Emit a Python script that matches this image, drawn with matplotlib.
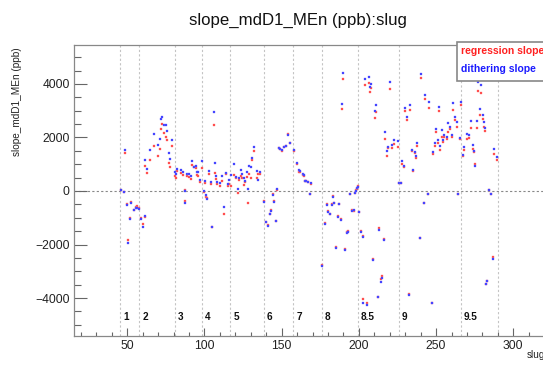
import matplotlib
matplotlib.use("Agg")
import matplotlib.pyplot as plt
from matplotlib.patches import Rectangle
from matplotlib.ticker import MultipleLocator

plt.rcParams['font.family'] = ['Liberation Sans', 'DejaVu Sans']

# slug number of each point
slug = [
    45.7, 47.9, 48.5, 49.8, 50.7, 51.8, 52.6, 54.4, 55.5, 56.5, 57.5,
    59.0, 60.0, 61.2, 61.7, 62.8, 64.9, 67.1, 69.9, 71.0, 71.8, 72.7, 74.0,
    74.8, 75.7, 76.8, 77.9, 79.0,
    80.8, 81.5, 82.5, 85.0, 86.0, 87.2, 87.4, 88.7, 90.0, 91.0, 92.1, 93.2,
    94.3, 95.0, 96.0, 97.0, 98.2,
    99.7, 100.1, 100.8, 101.4, 102.7, 104.0, 105.1, 106.4, 106.8, 107.5,
    108.3, 109.8, 111.1, 112.6, 113.7, 115.0, 116.2,
    117.3, 119.1, 120.5, 121.9, 122.5, 123.5, 124.5, 125.6, 126.5, 127.5,
    128.3, 129.0, 130.0, 131.0, 132.3, 133.8, 134.5, 136.0,
    138.7, 139.8, 140.9, 142.2, 143.1, 144.4, 145.2, 146.1, 147.2, 148.0,
    149.0, 150.0, 151.7, 152.8, 154.3, 155.1,
    157.9, 160.1, 161.2, 161.6, 163.6, 164.5, 164.9, 165.7, 167.0, 168.3,
    169.2,
    176.3, 178.2, 179.1, 180.2, 181.0, 182.3, 183.2, 184.1, 185.2, 186.2,
    187.3, 188.4, 189.3, 189.5, 191.0, 192.0, 193.1, 194.2, 195.5, 196.6,
    197.2, 198.1, 198.8, 199.2,
    199.8, 201.3, 202.4, 202.8, 204.1, 205.0, 206.3, 207.4, 208.0, 209.1,
    210.2, 211.1, 212.1, 213.2, 214.1, 214.8, 216.2, 217.1, 218.4, 219.0,
    220.2, 221.5, 222.8, 225.1,
    226.0, 227.0, 227.9, 229.0, 230.1, 231.0, 232.5, 233.1, 234.2, 235.3,
    236.1, 237.0, 237.9, 239.6, 240.5, 242.4, 243.1, 244.6, 245.6, 247.6,
    248.2, 249.5, 250.2, 251.0, 252.1, 252.6, 253.6, 254.3, 255.4, 256.9,
    257.7, 259.0, 260.0, 260.8, 262.1, 263.4, 264.2, 265.5,
    266.2, 267.7, 268.3, 269.8, 271.1, 272.6, 273.7, 274.8, 275.2, 276.3,
    277.0, 278.5, 279.1, 280.4, 281.1, 281.5, 282.3, 282.8, 284.5, 285.6,
    286.7, 287.7, 289.3,
]

# regression slope (ppb)
reg_slope = [
    20, -40, 1408, -490, -1831, -1000, -420, -710, -590, -560, -640,
    -1010, -1230, 950, -985, 690, 1160, 1680, 1310, 1580, 2330, 2500, 2170,
    2010, 1900, 1060, 900, 1680,
    560, 500, 740, 660, 600, 50, -380, 560, 520, 450, 985, 880,
    860, 600, 560, 330, 870,
    -30, 290, -210, -260, 650, 260, -1360, 2450, 660, 450,
    270, 200, 380, -870, 640, 190, 280,
    190, 600, 480, -60, 420, 560, 470, 220, 330, 520,
    -440, 650, 500, 1150, 1480, 500, 650, 620,
    -380, -1150, -1280, -850, -720, -130, -390, -1110, 50, 1590,
    1560, 1510, 1640, 1690, 2130, 1800,
    1500, 1000, 720, 700, 600, 560, 380, 370, 340, -110,
    260,
    -2780, -1210, -500, -740, -850, -500, -190, -440, -2080, -940,
    -480, -1060, 3050, 4200, -2156, -1550, -1500, -100, -700, -735,
    -60, 20, 90, 180,
    -770, -1500, -1690, -4050, 3960, -4200, 4050, 3700, 3860, -2560,
    2740, 2940, -3950, -1400, -3290, -3190, -1795, 1944, 1320, 1600,
    3812, 1600, 1750, 1657,
    300, 310, 1009, 880, 3000, 2654, -3860, 3028, 1480, 760,
    1420, 1250, 1700, -1744, 4212, -436, 3439, -112, 3115, -4174,
    1383, 1700, 2200, 1800, 2990, 1550, 2030, 1850, 2006, 1950,
    2205, 2305, 2000, 3028, 2654, 2400, -125, 1956,
    3214, 1308, 1550, 1944, 1990, 2342, 1582, 1470, 1009, 2350,
    3750, 2850, 3650, 2700, 2400, 2255, -3489, -3364, 20, -112,
    -2480, 1383, 1159,
]

# dithering slope (ppb)
dith_slope = [
    40, -20, 1532, -530, -1931, -1050, -460, -720, -620, -650, -660,
    -1060, -1330, 1160, -935, 810, 1530, 2130, 1710, 1930, 2690, 2770, 2470,
    2450, 2255, 1430, 1196, 1906,
    700, 620, 820, 790, 700, 0, -460, 640, 640, 560, 1120, 910,
    930, 700, 720, 400, 1110,
    10, 380, -150, -300, 760, 320, -1330, 2950, 1030, 560,
    350, 300, 560, -610, 685, 280, 400,
    580, 1010, 510, 80, 500, 780, 640, 480, 380, 710,
    90, 930, 880, 1220, 1660, 750, 420, 700,
    -410, -1170, -1300, -860, -735, -140, -400, -1120, 60, 1610,
    1580, 1530, 1660, 1700, 2090, 1780,
    1530, 1030, 800, 760, 635, 610, 390, 390, 350, -110,
    290,
    -2820, -1250, -536, -772, -872, -523, -212, -461, -2130, -959,
    -500, -1084, 3250, 4400, -2200, -1580, -1530, -125, -735, -700,
    -62, 0, 100, 137,
    -800, -1520, -1707, -4174, 4170, -4250, 4260, 3900, 4010, -2590,
    2990, 3200, -3975, -1450, -3390, -3260, -1830, 2218, 1507, 1657,
    4062, 1719, 1906, 1869,
    312, 312, 1134, 950, 3090, 2753, -3875, 3202, 1532, 785,
    1470, 1308, 1806, -1744, 4373, -436, 3600, -112, 3327, -4174,
    1450, 1781, 2305, 1900, 3152, 1682, 2280, 1906, 2100, 2031,
    2529, 2405, 2100, 3302, 2778, 2591, -100, 1990,
    3340, 1350, 1657, 2118, 2093, 2616, 1719, 1500, 934, 2628,
    4062, 3052, 3950, 2840, 2590, 2350, -3489, -3364, 37, -112,
    -2554, 1557, 1283,
]

# run period boundaries and their names
period_start = [45.5, 57.8, 80.7, 98.2, 116.7, 138.3, 157.5, 175.9, 199.2,
                226.0, 266.1, 290.3]
period_name = ["1", "2", "3", "4", "5", "6", "7", "8", "8.5", "9", "9.5"]

W, H = 543, 365
fig = plt.figure(figsize=(W / 100, H / 100), dpi=100)
fig.patch.set_facecolor('white')

ax_l, ax_r, ax_t, ax_b = 74, 559.6, 44.5, 336
ax = fig.add_axes([ax_l / W, 1 - ax_b / H, (ax_r - ax_l) / W, (ax_b - ax_t) / H])
ax.set_xlim(15.5, 330)
ax.set_ylim(-5420, 5476)

for xb in period_start:
    ax.axvline(xb, color='#c4c4c4', lw=0.8, ls=(0, (2, 2)), zorder=1)
ax.axhline(0, color='#888888', lw=0.8, ls=(0, (2, 2)), zorder=1)

for xb, name in zip(period_start, period_name):
    ax.text(xb + 2.0, -4700, name, fontsize=7.2, fontweight='bold',
            ha='left', va='center', color='#111111', zorder=3)

ax.plot(slug, reg_slope, ls='none', marker='s', ms=1.9, mew=0.3,
        color='#ff3030', mec='#ff8080', zorder=4)
ax.plot(slug, dith_slope, ls='none', marker='s', ms=1.9, mew=0.3,
        color='#2020ff', mec='#8080ff', zorder=5)

ax.xaxis.set_major_locator(MultipleLocator(50))
ax.xaxis.set_minor_locator(MultipleLocator(10))
ax.yaxis.set_major_locator(MultipleLocator(2000))
ax.yaxis.set_minor_locator(MultipleLocator(500))
ax.tick_params(axis='both', which='both', direction='in', color='#666666',
               labelsize=8.7, labelcolor='#222222', width=0.8)
ax.tick_params(axis='x', which='major', length=5.8, pad=3)
ax.tick_params(axis='x', which='minor', length=2.8)
ax.tick_params(axis='y', which='major', length=9.4, pad=3)
ax.tick_params(axis='y', which='minor', length=4.7)
for sp in ax.spines.values():
    sp.set_color('#888888')
    sp.set_linewidth(0.9)

fig.text(297.5 / W, 1 - 20.7 / H, 'slope_mdD1_MEn (ppb):slug', fontsize=12.1,
         ha='center', va='center', color='#111111')
fig.text(17 / W, 1 - 47 / H, 'slope_mdD1_MEn (ppb)', fontsize=7.2,
         rotation=90, ha='center', va='top', color='#222222')
fig.text(527 / W, 1 - 355 / H, 'slug', fontsize=7.2, ha='left', va='center',
         color='#222222')

# legend box
box = Rectangle((456.7 / W, 1 - 80.5 / H), (560 - 456.7) / W, (80.5 - 41.5) / H,
                transform=fig.transFigure, facecolor='white', edgecolor='#888888',
                lw=1.2, zorder=10)
fig.add_artist(box)
fig.text(461 / W, 1 - 50.5 / H, 'regression slope', fontsize=7.5,
         fontweight='bold', color='#ff2020', ha='left', va='center', zorder=11)
fig.text(461 / W, 1 - 69.5 / H, 'dithering slope', fontsize=7.5,
         fontweight='bold', color='#1a1aff', ha='left', va='center', zorder=11)

fig.savefig('out.png', dpi=100)
